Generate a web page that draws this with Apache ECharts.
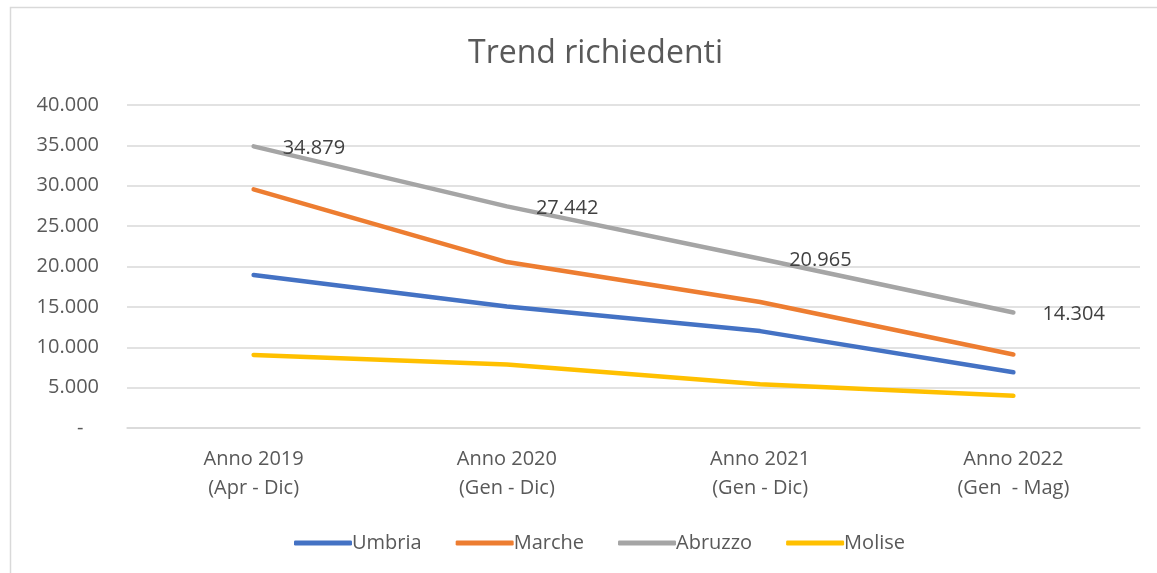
<!DOCTYPE html>
<html>
<head>
<meta charset="utf-8">
<script src="https://cdn.jsdelivr.net/npm/echarts@6/dist/echarts.min.js"></script>
<style>
html,body{margin:0;padding:0;background:#fff;}
#c{width:1157px;height:573px;}
</style>
</head>
<body>
<div id="c"></div>
<script>
const categories = ['Anno 2019\n(Apr - Dic)', 'Anno 2020\n(Gen - Dic)', 'Anno 2021\n(Gen - Dic)', 'Anno 2022\n(Gen  - Mag)'];
const seriesNames = ['Umbria', 'Marche', 'Abruzzo', 'Molise'];
const umbria = [18950, 15050, 12000, 6900];
const marche = [29550, 20550, 15600, 9100];
const abruzzo = [34879, 27442, 20965, 14304];
const molise = [9050, 7850, 5420, 3980];
const colors = ['#4472C4', '#ED7D31', '#A5A5A5', '#FFC000'];

function fmt(v) {
  if (v === 0) return '-   ';
  return String(Math.round(v)).replace(/\B(?=(\d{3})+(?!\d))/g, '.');
}

const FONT = 'Open Sans';
const chart = echarts.init(document.getElementById('c'), null, {renderer: 'canvas'});

function mk(name, data, color, labels) {
  return {
    name: name,
    type: 'line',
    data: data,
    symbol: labels ? 'circle' : 'none',
    symbolSize: 0.01,
    showSymbol: labels,
    smooth: false,
    lineStyle: {color: color, width: 4.5, cap: 'round', join: 'round'},
    itemStyle: {color: color},
    label: labels ? {
      show: true,
      position: 'right',
      distance: 28,
      offset: [1, 2],
      formatter: p => fmt(p.value),
      fontFamily: FONT,
      fontSize: 20,
      color: '#404040'
    } : {show: false},
    emphasis: {disabled: true},
    z: 3
  };
}

chart.setOption({
  animation: false,
  textStyle: {fontFamily: FONT},
  title: {
    text: 'Trend richiedenti',
    left: 463,
    top: 33,
    textStyle: {fontFamily: FONT, fontSize: 32, fontWeight: 'normal', color: '#595959'}
  },
  graphic: [{
    type: 'rect',
    shape: {x: 10.5, y: 7.5, width: 1200, height: 700},
    style: {fill: 'none', stroke: '#d9d9d9', lineWidth: 1.5},
    silent: true
  }],
  legend: {
    data: seriesNames,
    bottom: 15,
    left: 289,
    itemWidth: 58,
    itemHeight: 5,
    itemGap: 34,
    icon: 'roundRect',
    textStyle: {fontFamily: FONT, fontSize: 20, color: '#595959', padding: [0, 0, 0, -5]}
  },
  grid: {left: 127, right: 17, top: 105, bottom: 145, containLabel: false},
  xAxis: {
    type: 'category',
    data: categories,
    boundaryGap: true,
    axisLine: {show: true, lineStyle: {color: '#d9d9d9', width: 1.5}},
    axisTick: {show: false},
    axisLabel: {fontFamily: FONT, fontSize: 20, color: '#595959', lineHeight: 29, margin: 17}
  },
  yAxis: {
    type: 'value',
    min: 0,
    max: 40000,
    interval: 5000,
    axisLine: {show: false},
    axisTick: {show: false},
    splitLine: {lineStyle: {color: '#d9d9d9', width: 1.5}},
    axisLabel: {fontFamily: FONT, fontSize: 20, color: '#595959', margin: 28, formatter: fmt}
  },
  series: [
    mk(seriesNames[0], umbria, colors[0], false),
    mk(seriesNames[1], marche, colors[1], false),
    mk(seriesNames[2], abruzzo, colors[2], true),
    mk(seriesNames[3], molise, colors[3], false)
  ]
});
</script>
</body>
</html>
